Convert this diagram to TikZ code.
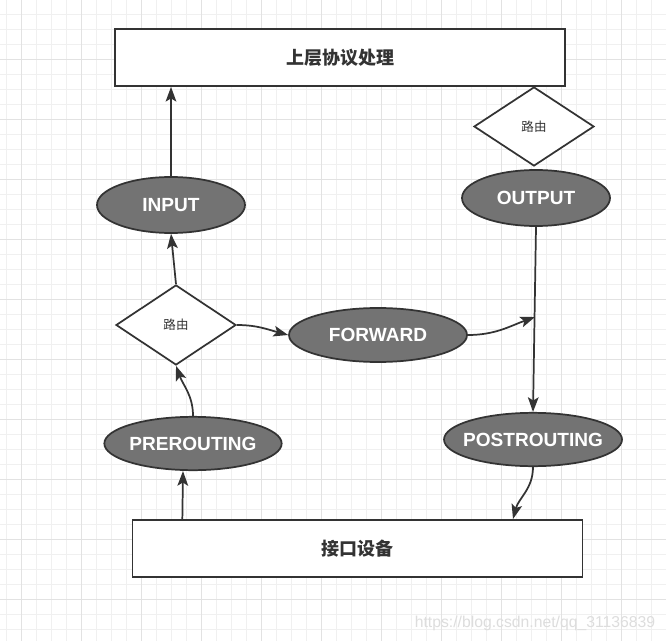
\documentclass[tikz,border=0pt]{standalone}
\usepackage{fontspec}
\setmainfont{Liberation Sans}
\newfontfamily\cjk{Noto Sans CJK SC}
\usetikzlibrary{shapes.geometric,arrows.meta}
\definecolor{ink}{HTML}{333333}
\definecolor{hookgray}{HTML}{737373}
\definecolor{gridmin}{HTML}{F0F0F0}
\definecolor{gridmaj}{HTML}{E2E2E2}
\definecolor{wmark}{HTML}{DDDDDD}

\begin{document}
\begin{tikzpicture}[x=0.75pt,y=-0.75pt,
    layerbox/.style={draw=ink,line width=1.35pt,fill=white,minimum width=337.5pt,minimum height=42.75pt,
      font=\cjk\bfseries\fontsize{13.5}{16}\selectfont,text=ink},
    hook/.style={ellipse,draw=ink,line width=1.3pt,fill=hookgray,inner sep=0pt,inner xsep=-8pt,
      font=\bfseries\fontsize{14.3}{16}\selectfont,text=white},
    routebox/.style={diamond,draw=ink,line width=1.3pt,fill=white,inner sep=0pt,minimum width=90pt,minimum height=60pt,
      font=\cjk\fontsize{9.4}{11}\selectfont,text=ink},
    flow/.style={draw=ink,line width=1.3pt,-{Stealth[length=11pt,width=8pt,inset=2.4pt]}}]
    \useasboundingbox (0,0) rectangle (666,641);
    \fill[white] (0,0) rectangle (666,641);
    \foreach \gx in {6.7,21.7,...,667} \draw[gridmin,line width=0.75pt] (\gx,0) -- (\gx,641);
    \foreach \gy in {14.5,29.5,...,641} \draw[gridmin,line width=0.75pt] (0,\gy) -- (666,\gy);
    \foreach \gx in {21.7,81.7,...,667} \draw[gridmaj,line width=0.75pt] (\gx,0) -- (\gx,641);
    \foreach \gy in {59.5,119.5,...,641} \draw[gridmaj,line width=0.75pt] (0,\gy) -- (666,\gy);

    \node[layerbox] (upper) at (340,57.5) {上层协议处理};
    \node[layerbox] (device) at (357.5,548.5) {接口设备};
    \node[routebox,minimum height=59.25pt] (route2) at (534,126.5) {路由};
    \node[routebox] (route1) at (176,325) {路由};
    \node[hook,minimum width=111pt,minimum height=42pt] (output) at (536,198) {OUTPUT};
    \node[hook,minimum width=111pt,minimum height=42pt] (input) at (171,205) {INPUT};
    \node[hook,minimum width=133.5pt,minimum height=40.5pt] (forward) at (378,335) {FORWARD};
    \node[hook,minimum width=133.5pt,minimum height=40pt] (postrouting) at (533,439.5) {POSTROUTING};
    \node[hook,minimum width=133pt,minimum height=40pt] (prerouting) at (193,443.5) {PREROUTING};
    \coordinate (join) at (535,317);
    \coordinate (devin) at (513,519);

    \draw[flow] (input.north) -- (input.north |- upper.south);
    \draw[flow] (route1.north) -- (input.south);
    \draw[flow] (route1.east) to[out=0,in=165] (forward.west);
    \draw[flow] (forward.east) to[out=0,in=200] (join);
    \draw[flow] (output.south) -- (postrouting.north);
    \draw[flow] (postrouting.south) to[out=-90,in=75] (devin);
    \draw[flow] ([xshift=-8pt]prerouting.south |- device.north) -- ([xshift=-7.5pt]prerouting.south);
    \draw[flow] (prerouting.north) to[out=90,in=-70] (route1.south);

    \node[text=wmark,font=\fontsize{11.8}{13}\selectfont] (watermark) at (535,623) {https://blog.csdn.net/qq\_31136839};
\end{tikzpicture}
\end{document}
